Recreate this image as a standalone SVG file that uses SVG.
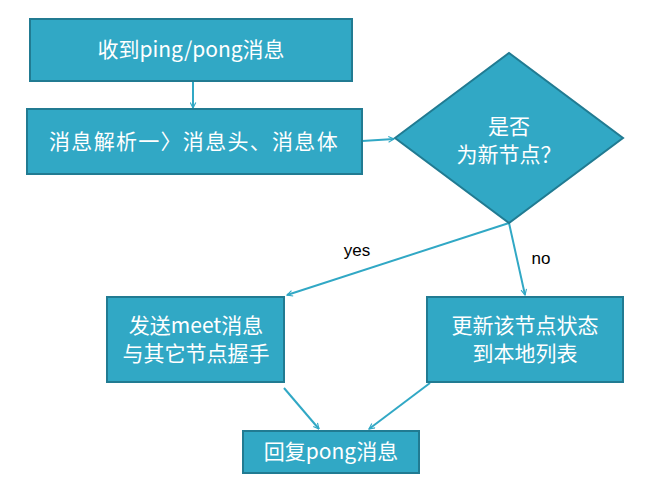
<svg xmlns="http://www.w3.org/2000/svg" width="650" height="488" viewBox="0 0 650 488">
<style>
.box{fill:#31a8c5;stroke:#217b92;stroke-width:2}
.t{font-family:"Noto Sans CJK SC","Noto Sans",sans-serif;font-size:21px;fill:#ffffff;text-anchor:middle}
.lbl{font-family:"Liberation Sans","Noto Sans",sans-serif;font-size:17px;fill:#000000;text-anchor:middle}
.c{stroke:#31a8c5;stroke-width:2;fill:none;marker-end:url(#ah)}
</style>
<defs>
<marker id="ah" viewBox="0 0 10 10" refX="9" refY="5" markerWidth="7" markerHeight="7" orient="auto" markerUnits="userSpaceOnUse">
<path d="M1,1 L9,5 L1,9" fill="none" stroke="#31a8c5" stroke-width="1.6"/>
</marker>
</defs>
<rect width="650" height="488" fill="#ffffff"/>
<g id="connectors">
<line class="c" x1="193" y1="81" x2="193" y2="108"/>
<line class="c" x1="362" y1="141" x2="394" y2="139"/>
<line class="c" x1="509" y1="223" x2="287" y2="295"/>
<line class="c" x1="509" y1="223" x2="525" y2="295"/>
<line class="c" x1="284" y1="388" x2="319" y2="429"/>
<line class="c" x1="430" y1="383" x2="369" y2="429"/>
</g>
<g id="n1">
<rect class="box" x="30" y="19" width="322" height="62"/>
<text class="t" x="191" y="57">收到ping/pong消息</text>
</g>
<g id="n2">
<rect class="box" x="27" y="109" width="335" height="65"/>
<text class="t" x="194" y="149" letter-spacing="1.3">消息解析一〉消息头、消息体</text>
</g>
<g id="n3">
<polygon class="box" points="395,138 509,53 623,138 509,223"/>
<text class="t" x="509" y="134">是否</text>
<text class="t" x="509" y="162">为新节点？</text>
</g>
<g id="n4">
<rect class="box" x="107" y="297" width="177" height="85"/>
<text class="t" x="196" y="333">发送meet消息</text>
<text class="t" x="196" y="361">与其它节点握手</text>
</g>
<g id="n5">
<rect class="box" x="427" y="297" width="196" height="85"/>
<text class="t" x="525" y="333">更新该节点状态</text>
<text class="t" x="525" y="361">到本地列表</text>
</g>
<g id="n6">
<rect class="box" x="243" y="431" width="176" height="42"/>
<text class="t" x="331" y="459">回复pong消息</text>
</g>
<text class="lbl" x="357" y="256">yes</text>
<text class="lbl" x="541" y="264">no</text>
</svg>
